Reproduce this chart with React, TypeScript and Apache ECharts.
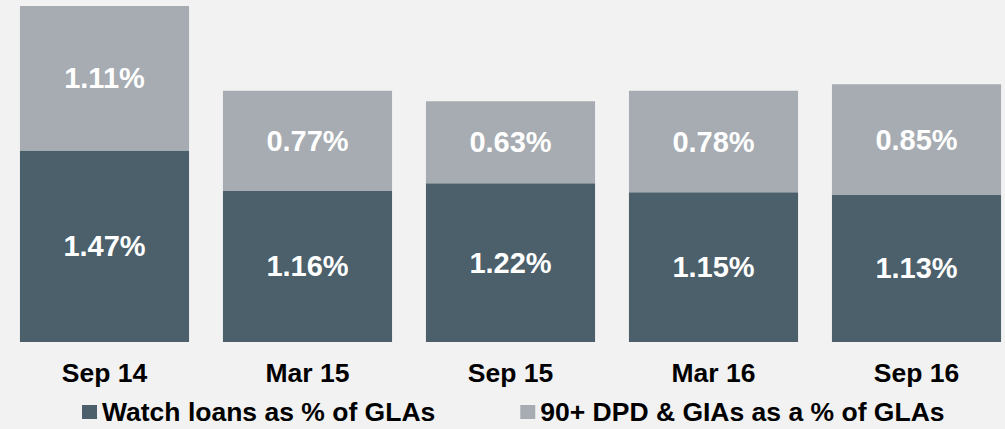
import React, { useEffect, useRef } from "react";
import * as echarts from "echarts";

const categories = ["Sep 14", "Mar 15", "Sep 15", "Mar 16", "Sep 16"];
const watchLoans = [1.47, 1.16, 1.22, 1.15, 1.13];
const dpdGias = [1.11, 0.77, 0.63, 0.78, 0.85];
const seriesNames = ["Watch loans as % of GLAs", "90+ DPD & GIAs as a % of GLAs"];

const FONT = "'Liberation Sans', Arial, sans-serif";

export default function App() {
  const ref = useRef<HTMLDivElement>(null);
  useEffect(() => {
    if (!ref.current) return;
    const chart = echarts.init(ref.current, undefined, { renderer: "svg" });
    const label = {
      show: true,
      position: "inside",
      color: "#ffffff",
      fontFamily: FONT,
      fontWeight: "bold",
      fontSize: 29,
      formatter: (p: any) => Number(p.value).toFixed(2) + "%",
    };
    chart.setOption({
      animation: false,
      backgroundColor: "#f2f2f2",
      grid: { left: 3, width: 1015, top: 3.5, bottom: 87, containLabel: false },
      legend: {
        left: 77,
        top: 393,
        itemWidth: 15,
        itemHeight: 14,
        itemGap: 85,
        icon: "rect",
        textStyle: {
          fontFamily: FONT,
          fontWeight: "bold",
          fontSize: 26.5,
          color: "#000000",
          lineHeight: 28,
        },
        data: seriesNames,
      },
      xAxis: {
        type: "category",
        data: categories,
        axisLine: { show: false },
        axisTick: { show: false },
        axisLabel: {
          margin: 17,
          fontFamily: FONT,
          fontWeight: "bold",
          fontSize: 26.5,
          color: "#000000",
        },
      },
      yAxis: {
        type: "value",
        min: 0,
        max: 2.6,
        show: false,
        splitLine: { show: false },
      },
      series: [
        {
          name: seriesNames[0],
          type: "bar",
          stack: "total",
          data: watchLoans,
          barCategoryGap: "16.7%",
          itemStyle: { color: "#4b606b" },
          label,
        },
        {
          name: seriesNames[1],
          type: "bar",
          stack: "total",
          data: dpdGias,
          barCategoryGap: "16.7%",
          itemStyle: { color: "#a6acb1" },
          label,
        },
      ],
    });
    return () => chart.dispose();
  }, []);
  return (
    <div
      ref={ref}
      style={{ position: "fixed", left: 0, top: 0, width: 1020, height: 429 }}
    />
  );
}
